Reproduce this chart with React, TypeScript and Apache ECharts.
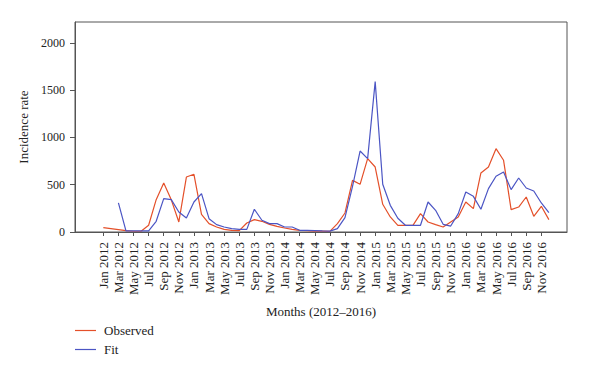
import React, { useEffect, useRef } from "react";
import * as echarts from "echarts";

const monthNames = ["Jan", "Feb", "Mar", "Apr", "May", "Jun", "Jul", "Aug", "Sep", "Oct", "Nov", "Dec"];
const years = [2012, 2013, 2014, 2015, 2016];
const months: string[] = [];
years.forEach((y) => monthNames.forEach((m) => months.push(`${m} ${y}`)));

const observed = [46, 36, 25, 14, 8, 8, 71, 342, 518, 340, 106, 581, 610, 187, 89, 53, 28, 18, 15, 95,
  131, 113, 81, 60, 42, 28, 18, 14, 10, 10, 6, 89, 201, 546, 504, 776, 687, 293, 159, 71,
  70, 70, 194, 106, 78, 53, 106, 159, 317, 247, 624, 687, 881, 758, 237, 264, 370, 166, 272, 131];

const fit: (number | null)[] = [null, null, 307, 12, 12, 12, 12, 113, 353, 342, 211, 148, 317, 406, 141, 78, 53, 36, 28, 28,
  240, 124, 89, 89, 53, 53, 18, 18, 15, 12, 10, 35, 152, 483, 856, 776, 1590, 504, 282, 145,
  71, 71, 71, 317, 229, 81, 63, 194, 423, 377, 240, 459, 589, 634, 448, 571, 465, 433, 307, 205];

const yTicks = [0, 500, 1000, 1500, 2000];
const xTickIdx = months.map((_, i) => i).filter((i) => i % 2 === 0);

const FONT = "Liberation Serif";
const RED = "#e4502a";
const BLUE = "#4b55c4";
const LINE_ICON = "path://M0,0H21V1.2H0Z";

export default function App() {
  const ref = useRef<HTMLDivElement>(null);
  useEffect(() => {
    document.body.style.margin = "0";
    if (!ref.current) return;
    const chart = echarts.init(ref.current, undefined, { renderer: "svg" });
    chart.setOption({
      animation: false,
      backgroundColor: "#ffffff",
      textStyle: { fontFamily: FONT, color: "#222" },
      grid: {
        left: 75, right: 33, top: 22, bottom: 143,
        show: true, borderColor: "#555", borderWidth: 1,
      },
      legend: {
        orient: "vertical",
        left: 75, top: 324,
        itemWidth: 21, itemHeight: 12, itemGap: 6, padding: 0,
        textStyle: { fontFamily: FONT, fontSize: 13, color: "#222", padding: [0, 0, 0, 3] },
        data: [
          { name: "Observed", icon: LINE_ICON, itemStyle: { color: RED } },
          { name: "Fit", icon: LINE_ICON, itemStyle: { color: BLUE } },
        ],
      },
      xAxis: {
        type: "value",
        min: -3.75,
        max: 61.4,
        name: "Months (2012\u20132016)",
        nameLocation: "middle",
        nameGap: 73,
        nameTextStyle: { fontFamily: FONT, fontSize: 13, color: "#222" },
        splitLine: { show: false },
        axisLine: { show: true, onZero: false, lineStyle: { color: "#555", width: 1 } },
        axisTick: { show: true, length: 4, lineStyle: { color: "#555" }, customValues: xTickIdx },
        axisLabel: {
          rotate: 90,
          margin: 10,
          fontSize: 13,
          fontFamily: FONT,
          color: "#222",
          customValues: xTickIdx,
          formatter: (v: number) => months[Math.round(v)] ?? "",
        },
      },
      yAxis: {
        type: "value",
        min: 0,
        max: 2220,
        name: "Incidence rate",
        nameLocation: "middle",
        nameGap: 38,
        nameTextStyle: { fontFamily: FONT, fontSize: 13, color: "#222" },
        splitLine: { show: false },
        axisLine: { show: true, onZero: false, lineStyle: { color: "#555", width: 1 } },
        axisTick: { show: true, length: 5, lineStyle: { color: "#555" }, customValues: yTicks },
        axisLabel: {
          margin: 10, fontSize: 12, fontFamily: FONT, color: "#222", customValues: yTicks,
          formatter: (v: number) => String(v),
        },
      },
      series: [
        {
          name: "Observed",
          type: "line",
          data: observed.map((v, i) => [i, v]),
          symbol: "none",
          color: RED,
          lineStyle: { width: 1.2, color: RED },
        },
        {
          name: "Fit",
          type: "line",
          data: fit.map((v, i) => [i, v]),
          symbol: "none",
          color: BLUE,
          lineStyle: { width: 1.2, color: BLUE },
        },
      ],
    });
    return () => chart.dispose();
  }, []);
  return <div ref={ref} style={{ width: 600, height: 375 }} />;
}
